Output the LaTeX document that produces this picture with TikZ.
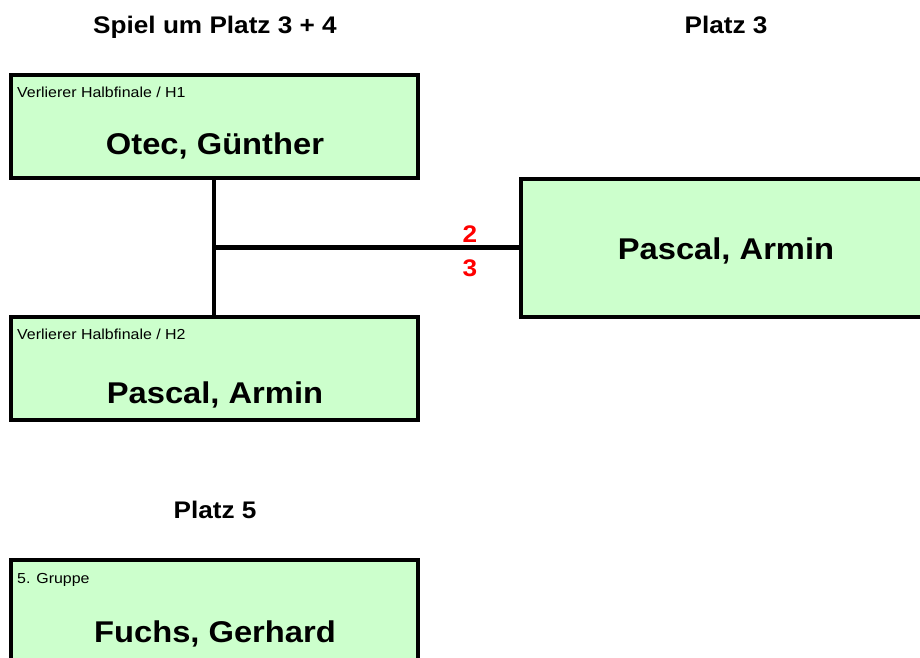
\documentclass[tikz,border=0pt]{standalone}
\usepackage{fontspec}
\setmainfont{Liberation Sans}
\newfontfamily\widesans{Liberation Sans}[FakeStretch=1.09]
\newfontfamily\smallsans{Liberation Sans}[FakeStretch=1.1]
\usepackage{xcolor}
\usetikzlibrary{positioning, calc}
\definecolor{boxgreen}{HTML}{CCFFCC}
\definecolor{scorered}{HTML}{FF0000}

\tikzset{
  box/.style={draw=black, fill=boxgreen, line width=4pt, anchor=north west,
    outer sep=0pt, minimum width=407pt, minimum height=103pt, inner sep=0pt},
  title/.style={anchor=base, inner sep=0pt, font=\widesans\fontsize{24}{28}\selectfont\bfseries},
  player/.style={anchor=base, inner sep=0pt, font=\widesans\fontsize{30}{36}\selectfont\bfseries},
  info/.style={anchor=base west, inner sep=0pt, font=\smallsans\fontsize{14.5}{16}\selectfont},
  score/.style={anchor=base, inner sep=0pt, text=scorered, font=\widesans\fontsize{24}{28}\selectfont\bfseries},
  conn/.style={draw=black, line width=4.5pt}
}

\begin{document}
\begin{tikzpicture}[x=1pt, y=-1pt]
      \useasboundingbox (0,0) rectangle (920,657);
      \clip (0,0) rectangle (920,657);

      % TITLES
      \node[title] (t34) at (215,33) {Spiel um Platz 3 + 4};
      \node[title] (t3) at (726,33) {Platz 3};
      \node[title] (t5) at (215,518) {Platz 5};

      % BOXES
      \node[box] (h1) at (10.5,75) {};
      \node[box] (h2) at (10.5,317) {};
      \node[box, minimum width=410pt, minimum height=138pt] (p3) at (521,179) {};
      \node[box] (p5) at (10.5,560) {};

      \node[info] (h1info) at (17,97) {Verlierer Halbfinale / H1};
      \node[info] (h2info) at (17,339) {Verlierer Halbfinale / H2};
      \node[info] (p5info) at (17,583) {5. Gruppe};

      \node[player] (h1name) at (215,154) {Otec, Günther};
      \node[player] (h2name) at (215,403) {Pascal, Armin};
      \node[player] (p3name) at (726,259) {Pascal, Armin};
      \node[player] (p5name) at (215,642) {Fuchs, Gerhard};

      % CONNECTORS
      \draw[conn] (h1.south) -- (h2.north);
      \coordinate (join) at (h1.south |- 0,247.5);
      \draw[conn] (join) -- (join -| p3.west);

      \node[score] (s1) at (470,242) {2};
      \node[score] (s2) at (470,276) {3};
    \end{tikzpicture}
\end{document}
